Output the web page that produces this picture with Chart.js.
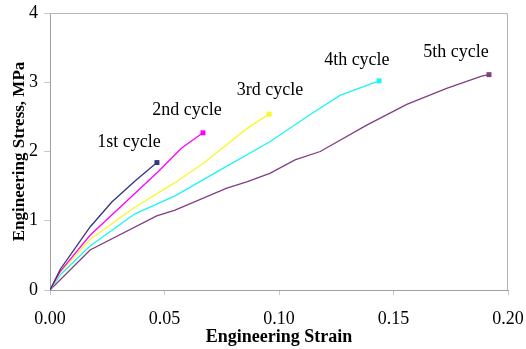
<!DOCTYPE html>
<html>
<head>
<meta charset="utf-8">
<script src="https://cdn.jsdelivr.net/npm/chart.js@4/dist/chart.umd.min.js"></script>
<style>
  html, body { margin: 0; padding: 0; background: #fff; }
  #wrap { width: 526px; height: 349px; position: relative; }
</style>
</head>
<body>
<div id="wrap"><canvas id="c"></canvas></div>
<script>
// ---- data ----
const cycleNames = ["1st cycle", "2nd cycle", "3rd cycle", "4th cycle", "5th cycle"];

const strain1 = [0, 0.0045, 0.0175, 0.027, 0.037, 0.0467];
const stress1 = [0, 0.30, 0.91, 1.27, 1.57, 1.84];

const strain2 = [0, 0.0045, 0.0175, 0.034, 0.0473, 0.0575, 0.0668];
const stress2 = [0, 0.27, 0.79, 1.30, 1.71, 2.05, 2.27];

const strain3 = [0, 0.0045, 0.0175, 0.0364, 0.0546, 0.067, 0.0859, 0.0957];
const stress3 = [0, 0.25, 0.73, 1.18, 1.55, 1.83, 2.33, 2.54];

const strain4 = [0, 0.0045, 0.0175, 0.0371, 0.0546, 0.0757, 0.096, 0.1135, 0.1266, 0.1437];
const stress4 = [0, 0.22, 0.635, 1.10, 1.36, 1.76, 2.14, 2.53, 2.81, 3.02];

const strain5 = [0, 0.0175, 0.0466, 0.0546, 0.0772, 0.0859, 0.096, 0.107, 0.118, 0.1383, 0.1558, 0.1732, 0.1885, 0.1917];
const stress5 = [0, 0.578, 1.07, 1.155, 1.47, 1.56, 1.685, 1.88, 2.0, 2.38, 2.68, 2.91, 3.09, 3.11];

const xTicks = [0, 0.05, 0.10, 0.15, 0.20];
const yTicks = [0, 1, 2, 3, 4];

// label anchor points (data coordinates) for the cycle annotations
const labelStrain = [0.0345, 0.0598, 0.0961, 0.134, 0.1773];
const labelStress = [2.14, 2.60, 2.89, 3.32, 3.44];

// ---- styling ----
const colors = ["#34347f", "#ff00ff", "#f8f82a", "#1cf4f4", "#803f80"];
const serif = "'Liberation Serif', 'Times New Roman', serif";

const strains = [strain1, strain2, strain3, strain4, strain5];
const stresses = [stress1, stress2, stress3, stress4, stress5];

const datasets = strains.map((xs, i) => ({
  label: cycleNames[i],
  data: xs.map((x, j) => ({ x: x, y: stresses[i][j] })),
  showLine: true,
  borderColor: colors[i],
  backgroundColor: colors[i],
  borderWidth: 1.3,
  pointStyle: 'rect',
  pointRadius: xs.map((_, j) => j === xs.length - 1 ? 3.5 : 0),
  pointBorderWidth: 0,
  pointHoverRadius: 0,
  tension: 0
}));

const frame = {
  id: 'frame',
  beforeDatasetsDraw(chart) {
    const a = chart.chartArea, ctx = chart.ctx;
    ctx.save();
    ctx.strokeStyle = '#b4b4b4';
    ctx.lineWidth = 1;
    ctx.beginPath();
    ctx.moveTo(a.left, a.top + 0.5);
    ctx.lineTo(a.right - 0.5, a.top + 0.5);
    ctx.lineTo(a.right - 0.5, a.bottom);
    ctx.stroke();
    ctx.restore();
  },
  afterDatasetsDraw(chart) {
    const ctx = chart.ctx, xs = chart.scales.x, ys = chart.scales.y;
    ctx.save();
    ctx.fillStyle = '#000';
    ctx.font = "18px " + serif;
    ctx.textAlign = 'center';
    ctx.textBaseline = 'middle';
    cycleNames.forEach((t, i) => {
      ctx.fillText(t, xs.getPixelForValue(labelStrain[i]), ys.getPixelForValue(labelStress[i]));
    });
    ctx.restore();
  }
};

new Chart(document.getElementById('c'), {
  type: 'scatter',
  data: { datasets: datasets },
  plugins: [frame],
  options: {
    responsive: true,
    maintainAspectRatio: false,
    animation: false,
    events: [],
    layout: { padding: { top: 13, right: 18, left: 0, bottom: 0 } },
    plugins: { legend: { display: false }, tooltip: { enabled: false } },
    scales: {
      x: {
        type: 'linear',
        min: 0, max: 0.2,
        afterBuildTicks: s => { s.ticks = xTicks.map(v => ({ value: v })); },
        afterFit: s => { s.height = 59; s.paddingLeft = 0; s.paddingRight = 0; },
        ticks: {
          color: '#000',
          font: { family: serif, size: 18 },
          padding: 13,
          maxRotation: 0,
          callback: v => Number(v).toFixed(2)
        },
        grid: { drawOnChartArea: false, drawTicks: true, tickLength: 5, color: '#c8c8c8' },
        border: { color: '#a0a0a0', width: 1 },
        title: {
          display: true,
          text: 'Engineering Strain',
          color: '#000',
          font: { family: serif, size: 18, weight: 'bold' },
          padding: { top: 0, bottom: 1 }
        }
      },
      y: {
        type: 'linear',
        min: 0, max: 4,
        afterBuildTicks: s => { s.ticks = yTicks.map(v => ({ value: v })); },
        afterFit: s => { s.width = 50; s.paddingTop = 0; s.paddingBottom = 0; },
        ticks: {
          color: '#000',
          font: { family: serif, size: 18 },
          padding: 6,
          callback: v => String(v)
        },
        grid: { drawOnChartArea: false, drawTicks: true, tickLength: 6, color: '#c8c8c8' },
        border: { color: '#a0a0a0', width: 1 },
        title: {
          display: true,
          text: 'Engineering Stress, MPa',
          color: '#000',
          font: { family: serif, size: 17, weight: 'bold' },
          padding: { top: 9, bottom: 0 }
        }
      }
    }
  }
});
</script>
</body>
</html>
